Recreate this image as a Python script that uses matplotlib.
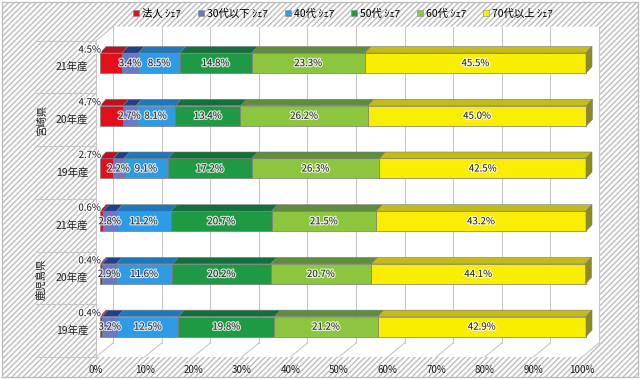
import matplotlib
matplotlib.use('Agg')
import matplotlib.pyplot as plt
from matplotlib.patches import Polygon, Rectangle
from matplotlib.lines import Line2D
import matplotlib.patheffects as pe

plt.rcParams['font.family'] = ['Noto Sans CJK JP', 'DejaVu Sans']
plt.rcParams['hatch.color'] = '#F3F3F3'

# ---------------- data ----------------
series = ['法人 ｼｪｱ', '30代以下 ｼｪｱ', '40代 ｼｪｱ', '50代 ｼｪｱ', '60代 ｼｪｱ', '70代以上 ｼｪｱ']
groups = ['宮崎県', '鹿児島県']
years = ['21年産', '20年産', '19年産', '21年産', '20年産', '19年産']
hojin = [4.5, 4.7, 2.7, 0.6, 0.4, 0.4]
age30 = [3.4, 2.7, 2.2, 2.8, 2.9, 3.2]
age40 = [8.5, 8.1, 9.1, 11.2, 11.6, 12.5]
age50 = [14.8, 13.4, 17.2, 20.7, 20.2, 19.8]
age60 = [23.3, 26.2, 26.3, 21.5, 20.7, 21.2]
age70 = [45.5, 45.0, 42.5, 43.2, 44.1, 42.9]
xticks = [0, 10, 20, 30, 40, 50, 60, 70, 80, 90, 100]
xticklabels = ['0%', '10%', '20%', '30%', '40%', '50%', '60%', '70%', '80%', '90%', '100%']

values = [hojin, age30, age40, age50, age60, age70]

# ---------------- styles ----------------
front_c = ['#E3101C', '#6A78C6', '#2F9BE4', '#1E9A45', '#8CC63E', '#FAEE00']
top_c = ['#C0101E', '#1F3F8F', '#1C78BC', '#12703A', '#5E8E3A', '#C4BC10']
side_c = '#8C8C1E'
grid_c = '#C8C8C8'

W, H = 640, 379
fig = plt.figure(figsize=(W / 100, H / 100), dpi=100)
fig.patch.set_facecolor('white')

# axes = front plane of the 3D box
x0px, x1px = 96, 582
ytop_px, ybot_px = 40.7, 357
ax = fig.add_axes([x0px / W, 1 - ybot_px / H, (x1px - x0px) / W, (ybot_px - ytop_px) / H])
ax.set_xlim(0, 100)
ax.set_ylim(5.5, -0.5)
ax.axis('off')

pxx = (x1px - x0px) / 100.0     # px per percent
pxy = (ybot_px - ytop_px) / 6.0  # px per category

def dxp(p):
    return p / pxx

def dyp(p):
    return p / pxy

# back wall / floor offsets
wdx, wdy = dxp(17), -dyp(14)
# bar offsets
fdx, fdy = dxp(4), -dyp(4)
bdx, bdy = dxp(6), -dyp(6.5)
bh = dyp(20)

# background hatch frame
fig.patches.append(Rectangle((0.003, 0.004), 0.994, 0.992, transform=fig.transFigure,
                             facecolor='white', edgecolor='#BDBDBD', lw=1.0,
                             hatch='//////', zorder=-10))

# plot area white wall
ax.add_patch(Polygon([(0, 5.5), (0, -0.5), (wdx, -0.5 + wdy), (100 + wdx, -0.5 + wdy),
                      (100 + wdx, 5.5 + wdy), (100, 5.5)], closed=True,
                     facecolor='white', edgecolor='none', zorder=0, clip_on=False))

# gridlines on back wall + floor diagonals
for t in xticks:
    ax.plot([t + wdx, t + wdx], [-0.5 + wdy, 5.5 + wdy], color=grid_c, lw=0.8, zorder=1, clip_on=False)
    ax.plot([t + wdx, t], [5.5 + wdy, 5.5], color=grid_c, lw=0.8, zorder=1, clip_on=False)
# left wall edges
ax.plot([0, 0], [-0.5, 5.5], color=grid_c, lw=0.8, zorder=1, clip_on=False)
ax.plot([0, wdx], [-0.5, -0.5 + wdy], color=grid_c, lw=0.8, zorder=1, clip_on=False)

# category axis separators
for b in [-0.5, 0.5, 1.5, 2.5, 3.5, 4.5, 5.5]:
    ax.plot([dxp(-60), 0], [b, b], color=grid_c, lw=0.8, zorder=1, clip_on=False)

halo = [pe.withStroke(linewidth=1.8, foreground='white', alpha=0.75)]

# bars
for i in range(len(years)):
    yc = i + fdy
    ytp = yc - bh / 2
    left = fdx
    for j, vals in enumerate(values):
        w = vals[i]
        ax.barh(yc, w, left=left, height=bh, color=front_c[j], edgecolor='#7A7A7A',
                linewidth=0.5, zorder=3, clip_on=False)
        ax.add_patch(Polygon([(left, ytp), (left + w, ytp), (left + w + bdx, ytp + bdy),
                              (left + bdx, ytp + bdy)], closed=True, facecolor=top_c[j],
                             edgecolor='#7A7A7A', lw=0.4, zorder=3, clip_on=False))
        if j == 0:
            ax.text(left + dxp(1), ytp - dyp(3.5), f'{w:.1f}%', ha='right', va='center',
                    fontsize=7, color='#222222', zorder=5, path_effects=halo)
        else:
            ax.text(left + w / 2, yc, f'{w:.1f}%', ha='center', va='center',
                    fontsize=7, color='#222222', zorder=5, path_effects=halo)
        left += w
    ax.add_patch(Polygon([(left, ytp), (left, ytp + bh), (left + bdx, ytp + bh + bdy),
                          (left + bdx, ytp + bdy)], closed=True, facecolor=side_c,
                         edgecolor='#7A7A7A', lw=0.4, zorder=3, clip_on=False))
    # category label
    ax.text(dxp(-8), i, years[i], ha='right', va='center', fontsize=7.5, color='#222222',
            clip_on=False)

# group labels
for g, name in enumerate(groups):
    ax.text(dxp(-54), 1 + 3 * g + dyp(1), name, ha='center', va='center', rotation=90,
            fontsize=7.5, color='#222222', clip_on=False)

# x tick labels
for t, lab in zip(xticks, xticklabels):
    ax.text(t, 5.5 + dyp(13), lab, ha='center', va='center', fontsize=7, color='#222222',
            clip_on=False)

# legend
handles = [Line2D([], [], marker='s', linestyle='none', markersize=5, markerfacecolor=c,
                  markeredgecolor='#888888', markeredgewidth=0.4) for c in front_c]
fig.legend(handles, series, ncol=6, loc='center', bbox_to_anchor=(0.535, 0.963),
           frameon=False, fontsize=7.5, handlelength=0.8, handletextpad=0.2,
           columnspacing=1.5)

fig.savefig('out.png', dpi=100)
